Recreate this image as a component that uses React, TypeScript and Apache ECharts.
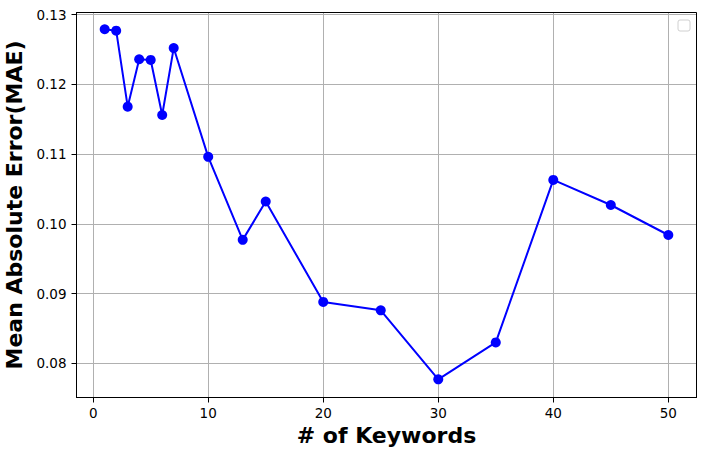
import React, { useEffect, useRef } from "react";
import * as echarts from "echarts";

const keywords = [1, 2, 3, 4, 5, 6, 7, 10, 13, 15, 20, 25, 30, 35, 40, 45, 50];
const maeValues = [
  0.1279, 0.1277, 0.1168, 0.1236, 0.1235, 0.1156, 0.1252, 0.1096, 0.0977,
  0.1032, 0.0888, 0.0876, 0.0777, 0.0830, 0.1063, 0.1027, 0.0984,
];
const xTitle = "# of Keywords";
const yTitle = "Mean Absolute Error(MAE)";

const GRID = { left: 76.5, top: 12.5, right: 706 - 696.5, bottom: 456 - 397.5 };

export default function App() {
  const ref = useRef<HTMLDivElement>(null);
  useEffect(() => {
    if (!ref.current) return;
    const chart = echarts.init(ref.current, undefined, { renderer: "svg" });
    const gw = 706 - GRID.left - GRID.right;
    const gh = 456 - GRID.top - GRID.bottom;
    chart.setOption({
      animation: false,
      backgroundColor: "#ffffff",
      textStyle: { fontFamily: "DejaVu Sans" },
      grid: {
        left: GRID.left, top: GRID.top, right: GRID.right, bottom: GRID.bottom,
        containLabel: false, outerBoundsMode: "none",
      },
      xAxis: {
        type: "value",
        min: -1.45,
        max: 52.45,
        splitNumber: 5,
        name: xTitle,
        nameLocation: "middle",
        nameGap: 27,
        nameTextStyle: { fontSize: 22, fontWeight: "bold", color: "#000", fontFamily: "DejaVu Sans" },
        axisLine: { show: true, onZero: false, lineStyle: { color: "#000", width: 1 } },
        axisTick: { show: true, inside: false, length: 5, lineStyle: { color: "#000" } },
        axisLabel: {
          show: true, margin: 8, fontSize: 13.5, color: "#000", fontFamily: "DejaVu Sans",
          showMinLabel: false, showMaxLabel: false,
          formatter: (v: number) => (Number.isInteger(v) ? String(v) : ""),
        },
        splitLine: { show: true, lineStyle: { color: "#b0b0b0", width: 1 } },
      },
      yAxis: {
        type: "value",
        min: 0.0751,
        max: 0.1303,
        splitNumber: 6,
        name: yTitle,
        nameLocation: "middle",
        nameGap: 47,
        nameTextStyle: { fontSize: 22, fontWeight: "bold", color: "#000", fontFamily: "DejaVu Sans" },
        axisLine: { show: true, onZero: false, lineStyle: { color: "#000", width: 1 } },
        axisTick: { show: true, inside: false, length: 5, lineStyle: { color: "#000" } },
        axisLabel: {
          show: true, margin: 10, fontSize: 13.5, color: "#000", fontFamily: "DejaVu Sans",
          showMinLabel: false, showMaxLabel: false,
          formatter: (v: number) => v.toFixed(2),
        },
        splitLine: { show: true, lineStyle: { color: "#b0b0b0", width: 1 } },
      },
      graphic: [
        {
          type: "rect",
          z: 100,
          silent: true,
          shape: { x: GRID.left, y: GRID.top, width: gw, height: gh },
          style: { fill: "none", stroke: "#000", lineWidth: 1 },
        },
        {
          type: "rect",
          z: 100,
          silent: true,
          shape: { x: 678, y: 20, width: 12, height: 11, r: 2 },
          style: { fill: "rgba(255,255,255,0.8)", stroke: "#d0d0d0", lineWidth: 1 },
        },
      ],
      series: [
        {
          type: "line",
          data: keywords.map((k, i) => [k, maeValues[i]]),
          symbol: "circle",
          symbolSize: 10,
          showSymbol: true,
          lineStyle: { color: "#0000ff", width: 2 },
          itemStyle: { color: "#0000ff" },
          z: 10,
        },
      ],
    });
    return () => chart.dispose();
  }, []);
  return (
    <div
      ref={ref}
      style={{ position: "fixed", left: 0, top: 0, width: 706, height: 456 }}
    />
  );
}
